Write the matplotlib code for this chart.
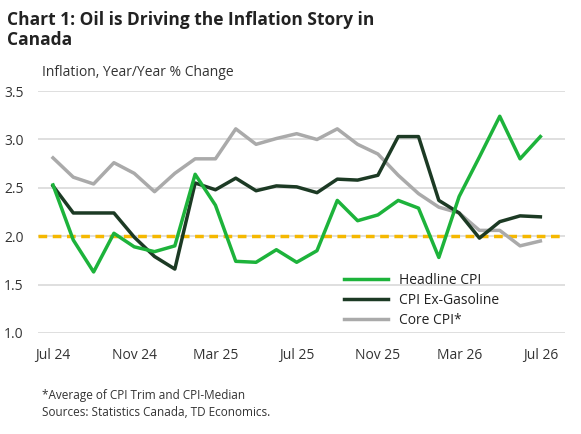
import matplotlib

matplotlib.use("Agg")

import matplotlib.pyplot as plt
import numpy as np

plt.rcParams["font.family"] = ["Open Sans", "DejaVu Sans"]

tick_labels = ["Jul 24", "Nov 24", "Mar 25", "Jul 25", "Nov 25", "Mar 26", "Jul 26"]
headline = [2.53, 1.96, 1.63, 2.03, 1.89, 1.84, 1.90, 2.64, 2.32, 1.74, 1.73, 1.86, 1.73,
            1.85, 2.37, 2.16, 2.22, 2.37, 2.29, 1.78, 2.41, 2.82, 3.24, 2.80, 3.03]
ex_gas = [2.52, 2.24, 2.24, 2.24, 1.99, 1.79, 1.66, 2.55, 2.48, 2.60, 2.47, 2.52, 2.51,
          2.45, 2.59, 2.58, 2.63, 3.03, 3.03, 2.37, 2.24, 1.98, 2.15, 2.21, 2.20]
core = [2.81, 2.61, 2.54, 2.76, 2.65, 2.46, 2.65, 2.80, 2.80, 3.11, 2.95, 3.01, 3.06,
        3.00, 3.11, 2.95, 2.85, 2.63, 2.44, 2.30, 2.24, 2.06, 2.06, 1.90, 1.95]
target = 2.0

x = np.arange(len(headline))

fig = plt.figure(figsize=(5.81, 4.34), dpi=100)
ax = fig.add_axes([0.065, 0.233, 0.907, 0.557])

ax.axhline(target, color="#f5b800", lw=2.5, ls=(0, (2.5, 1.6)), zorder=2)
ax.plot(x, headline, color="#1db33b", lw=2.5, label="Headline CPI", zorder=4)
ax.plot(x, ex_gas, color="#1c3a24", lw=2.5, label="CPI Ex-Gasoline", zorder=3)
ax.plot(x, core, color="#aaaaaa", lw=2.5, label="Core CPI*", zorder=2)

ax.set_xlim(-0.75, 25.2)
ax.set_ylim(1.0, 3.5)
ax.set_yticks(np.arange(1.0, 3.51, 0.5))
ax.set_yticklabels([f"{v:.1f}" for v in np.arange(1.0, 3.51, 0.5)])
ax.set_xticks(np.arange(0, 25, 4))
ax.set_xticklabels(tick_labels)
ax.grid(axis="y", color="#d9d9d9", lw=1.2)
ax.set_axisbelow(True)
for s in ax.spines.values():
    s.set_visible(False)
ax.tick_params(length=0, labelsize=10, colors="#333333")
ax.tick_params(axis="x", pad=11)
ax.tick_params(axis="y", pad=10)

ax.legend(loc="lower right", bbox_to_anchor=(0.90, -0.03), frameon=False, fontsize=10,
          handlelength=3.2, labelspacing=0.35, labelcolor="#222222")

fig.text(0.012, 0.975, "Chart 1: Oil is Driving the Inflation Story in\nCanada", fontsize=12.5,
         fontweight="bold", va="top", ha="left", color="#222222", linespacing=1.15)
fig.text(0.072, 0.833, "Inflation, Year/Year % Change", fontsize=10, va="center", color="#333333")
fig.text(0.072, 0.068, "*Average of CPI Trim and CPI-Median\nSources: Statistics Canada, TD Economics.",
         fontsize=8.5, va="center", color="#333333", linespacing=1.4)

fig.savefig("out.png", dpi=100)
